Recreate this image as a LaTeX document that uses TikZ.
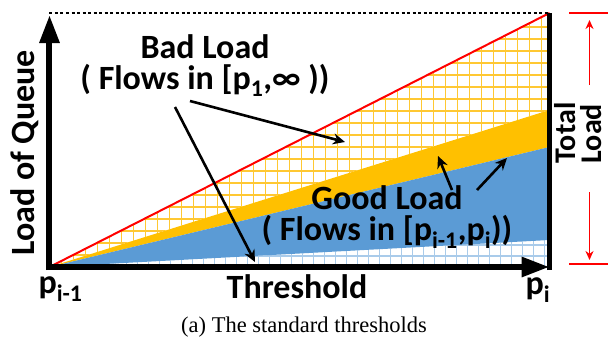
\documentclass[tikz,border=0pt]{standalone}
\usepackage{fontspec}
\setmainfont{Carlito}
\newfontfamily\capfont{Liberation Serif}
\usepackage{tkz-euclide}
\usetikzlibrary{arrows.meta}
\definecolor{loadorange}{HTML}{FFC000}
\definecolor{loadblue}{HTML}{5B9BD5}
\definecolor{gridorange}{HTML}{FFC832}
\definecolor{gridblue}{HTML}{A9CBEA}
\tikzset{
    biglabel/.style={font=\bfseries\fontsize{34}{31}\selectfont,align=center,inner sep=0pt},
    axisline/.style={line width=6pt,-{Triangle[length=28pt,width=19pt]}},
    pointer/.style={line width=2.6pt,-{Stealth[length=12pt,width=11pt]}},
    dimline/.style={red,line width=1.8pt},
    dimarrow/.style={red,line width=1.6pt,-{Stealth[length=9pt,width=8pt]}},
}

\begin{document}
\begin{tikzpicture}[x=10pt,y=10pt]
                    \useasboundingbox (-4.95,-7.4) rectangle (55.85,26.7);

                    \tkzDefPoint(0,0){O}
                    \tkzDefPoint(50,0){X}
                    \tkzDefPoint(50,25.4){T}
                    \tkzDefPoint(0,25.4){Y}
                    \tkzDefPoint(50,15.7){A}
                    \tkzDefPoint(50,12.0){B}
                    \tkzDefPoint(50,2.7){C}

                    \begin{scope}
                        \clip (O) -- (T) -- (A) -- cycle;
                        \draw[gridorange,line width=1.5pt,step=1.2] (0,0) grid (50,26);
                    \end{scope}
                    \begin{scope}
                        \clip (O) -- (C) -- (X) -- cycle;
                        \draw[gridblue,line width=1.1pt,step=1.1] (0,-1) grid (50,3);
                    \end{scope}

                    \fill[loadorange] (O) -- (A) -- (B) -- cycle;
                    \fill[loadblue] (O) -- (B) -- (C) -- cycle;
                    \draw[red,line width=2pt] (O) -- (T);
                    \draw[line width=1.5pt,dash pattern=on 3pt off 2.5pt] (Y) -- (T);

                    \tkzDefShiftPoint[O](-0.3,0){O1}
                    \tkzDefShiftPoint[O](0,-0.3){O2}
                    \tkzDefShiftPoint[X](0,-0.3){X1}
                    \tkzDefPoint(0,25.2){Ytip}

                    \draw[axisline] (O2) -- (Ytip);
                    \draw[axisline] (O1) -- (X);
                    \draw[line width=5pt] (X1) -- (T);

                    \tkzDefPoint(14.05,16.6){P1}
                    \tkzDefPoint(29.55,12.5){P2}
                    \tkzDefPoint(12.55,16.0){P3}
                    \tkzDefPoint(20.55,0.5){P4}
                    \tkzDefPoint(40.25,7.7){Q1}
                    \tkzDefPoint(38.85,11.1){Q2}
                    \tkzDefPoint(42.75,7.7){Q3}
                    \tkzDefPoint(45.75,10.9){Q4}

                    \draw[pointer] (P1) -- (P2);
                    \draw[pointer] (P3) -- (P4);
                    \draw[pointer] (Q1) -- (Q2);
                    \draw[pointer] (Q3) -- (Q4);

                    \tkzDefPoint(51.95,25.4){R1}
                    \tkzDefPoint(55.9,25.4){R2}
                    \tkzDefPoint(51.95,0.3){R3}
                    \tkzDefPoint(55.9,0.3){R4}
                    \tkzDefPoint(54,18.2){S1}
                    \tkzDefPoint(54,24.7){S2}
                    \tkzDefPoint(54,7.5){S3}
                    \tkzDefPoint(54,0.7){S4}

                    \draw[dimline] (R1) -- (R2);
                    \draw[dimline] (R3) -- (R4);
                    \draw[dimarrow] (S1) -- (S2);
                    \draw[dimarrow] (S3) -- (S4);

                    \node[biglabel] (bad) at (15.55,20.1) {Bad Load\\( Flows in [p\textsubscript{1},∞ ))};
                    \node[biglabel] (good) at (33.75,5.0) {Good Load\\( Flows in [p\textsubscript{i-1},p\textsubscript{i}))};
                    \node[biglabel,rotate=90] (queue) at (-2.45,11.4) {Load of Queue};
                    \node[biglabel,rotate=90,align=left,font=\bfseries\fontsize{30}{26}\selectfont] (total) at (52.85,13.4) {Total\\Load};
                    \node[biglabel] (pleft) at (1.1,-2.2) {p\textsubscript{i-1}};
                    \node[biglabel] (thr) at (24.75,-2.0) {Threshold};
                    \node[biglabel] (pright) at (48.85,-2.3) {p\textsubscript{i}};
                    \node[font=\capfont\fontsize{22.5}{24}\selectfont] (cap) at (25.45,-6.0) {(a) The standard thresholds};
                \end{tikzpicture}
\end{document}
